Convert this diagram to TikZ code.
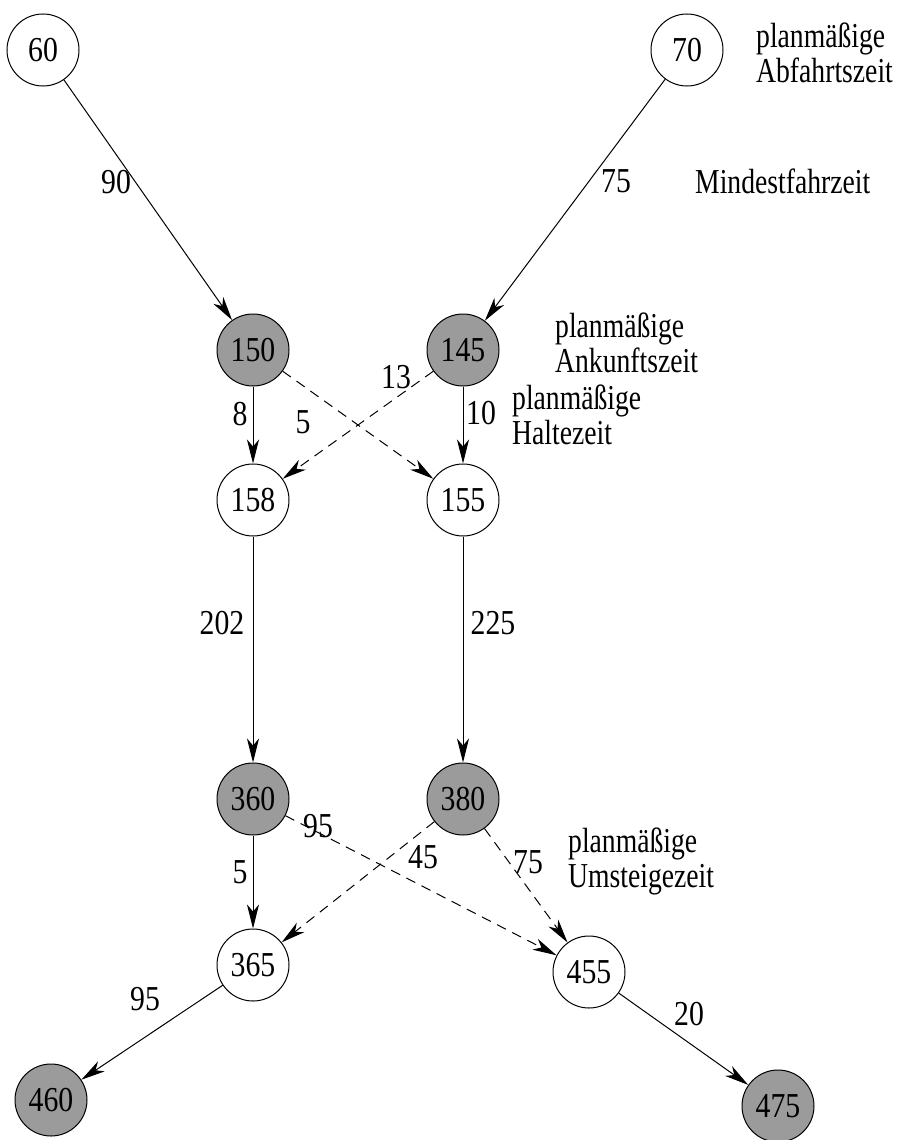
\documentclass[tikz,border=0pt]{standalone}
\usepackage{fontspec}
\setmainfont{Liberation Serif}
\newfontfamily\numfont[FakeStretch=0.85]{Liberation Serif}
\newfontfamily\txtfont[FakeStretch=0.79]{Liberation Serif}
\usetikzlibrary{arrows.meta}
\definecolor{nodegray}{RGB}{155,155,155}
\begin{document}
\begin{tikzpicture}[x=1pt,y=-1pt,
  vtx/.style={circle,draw,line width=1pt,minimum size=72pt,inner sep=0pt,font=\numfont\fontsize{35}{40}\selectfont},
  dark/.style={vtx,fill=nodegray},
  light/.style={vtx,fill=white},
  num/.style={inner sep=0pt,font=\numfont\fontsize{35}{40}\selectfont},
  note/.style={inner sep=0pt,anchor=base west,align=left,font=\txtfont\fontsize{35}{35}\selectfont},
  arr/.style={line width=1pt,-{Stealth[length=24pt,width=12pt,inset=7pt]}},
  dsh/.style={arr,dash pattern=on 10pt off 7pt}]
\useasboundingbox (0,0) rectangle (899,1140);

\node[light] (n60) at (43,50) {60};
\node[light] (n70) at (687,50) {70};
\node[dark] (n150) at (253,350) {150};
\node[dark] (n145) at (463,350) {145};
\node[light] (n158) at (253,500) {158};
\node[light] (n155) at (463,500) {155};
\node[dark] (n360) at (253,799) {360};
\node[dark] (n380) at (463,799) {380};
\node[light] (n365) at (253,965) {365};
\node[light] (n455) at (589,972) {455};
\node[dark] (n460) at (51,1100) {460};
\node[dark] (n475) at (778,1106) {475};

\draw[arr] (n60) -- (n150);
\draw[arr] (n70) -- (n145);
\draw[arr] (n150) -- (n158);
\draw[arr] (n145) -- (n155);
\draw[dsh] (n145) -- (n158);
\draw[dsh] (n150) -- (n155);
\draw[arr] (n158) -- (n360);
\draw[arr] (n155) -- (n380);
\draw[arr] (n360) -- (n365);
\draw[dsh] (n360) -- (n455);
\draw[dsh] (n380) -- (n365);
\draw[dsh] (n380) -- (n455);
\draw[arr] (n365) -- (n460);
\draw[arr] (n455) -- (n475);

\node[num] (l90) at (116,182) {90};
\node[num] (l75a) at (616,181) {75};
\node[num] (l8) at (240,414) {8};
\node[num] (l5a) at (303,422) {5};
\node[num] (l13) at (396,377) {13};
\node[num] (l10) at (481,413) {10};
\node[num] (l202) at (222,623) {202};
\node[num] (l225) at (493,623) {225};
\node[num] (l95a) at (318,826) {95};
\node[num] (l45) at (423,857) {45};
\node[num] (l75b) at (528,862) {75};
\node[num] (l5b) at (240,872) {5};
\node[num] (l95b) at (145,999) {95};
\node[num] (l20) at (689,1014) {20};

\node[note] (tab) at (756,82) {planmäßige\\Abfahrtszeit};
\node[note] (tmin) at (695,193) {Mindestfahrzeit};
\node[note] (tan) at (555,372) {planmäßige\\Ankunftszeit};
\node[note] (thal) at (512,444) {planmäßige\\Haltezeit};
\node[note] (tum) at (568,887) {planmäßige\\Umsteigezeit};
\end{tikzpicture}
\end{document}
